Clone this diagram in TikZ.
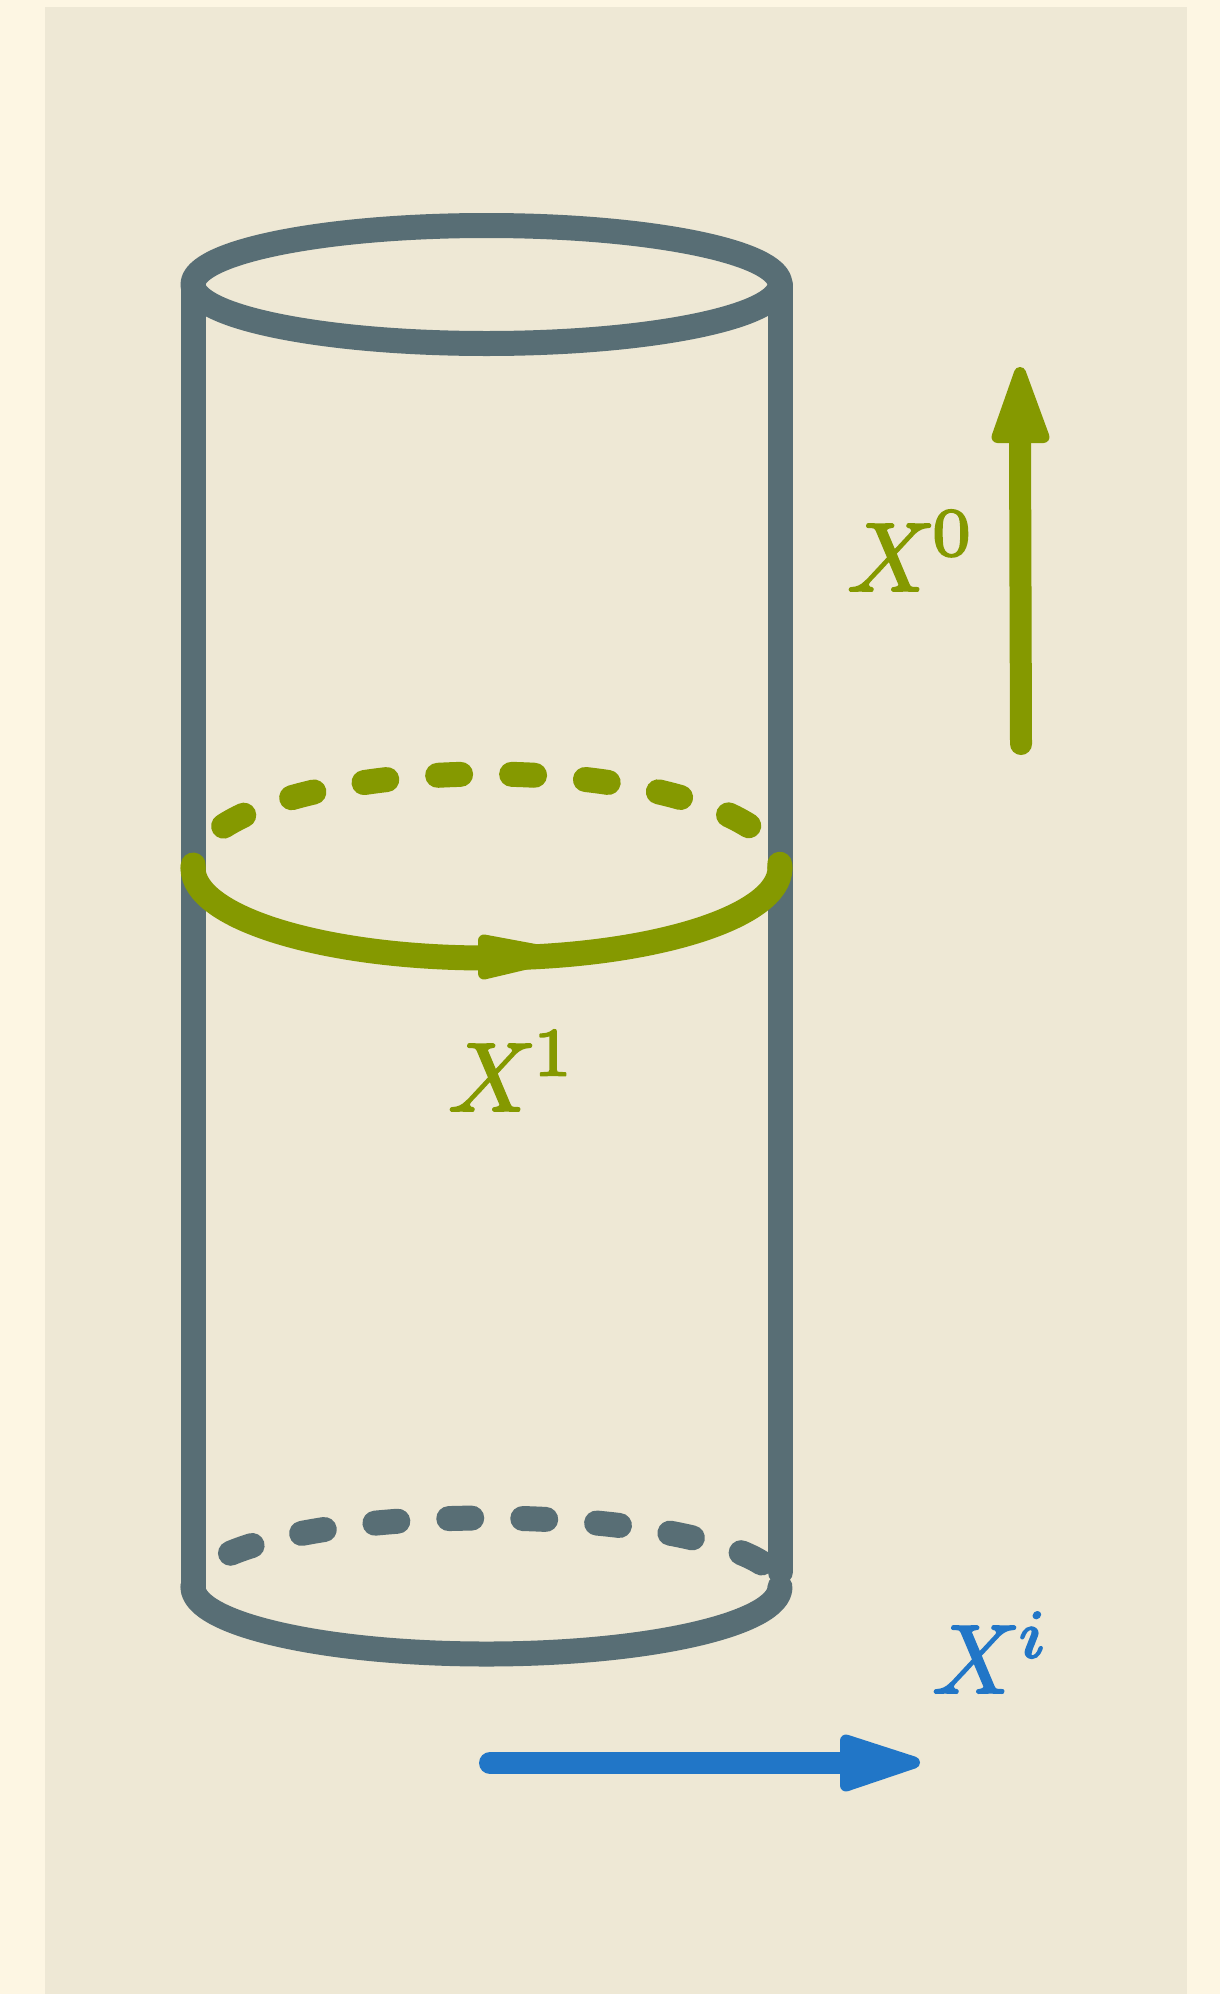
\documentclass[tikz,border=0pt]{standalone}
\definecolor{outerbg}{HTML}{FDF6E3}
\definecolor{innerbg}{HTML}{EEE8D5}
\definecolor{cgray}{HTML}{586E75}
\definecolor{cgreen}{HTML}{859900}
\definecolor{cblue}{HTML}{2176C7}
\newcommand{\heavytext}[1]{\special{pdf:literal direct 2 Tr 0.2 w}#1\special{pdf:literal direct 0 Tr}}
\begin{document}
\begin{tikzpicture}[x=1pt,y=1pt,line cap=round,line join=round,
  cyl/.style={draw=cgray,line width=25pt},
  ring/.style={draw=cgreen,line width=25pt},
  dashedring/.style={dash pattern=on 23pt off 51pt},
  shaft/.style={line width=22pt},
  head/.style={line width=12pt},
  lbl/.style={inner sep=0pt,anchor=base west,scale=9.8,transform shape}]
\fill[outerbg] (0,0) rectangle (1220,-1994);
\fill[innerbg] (45,-7) rectangle (1187,-1994);
\useasboundingbox (0,0) rectangle (1220,-1994);
% cylinder
\coordinate (topc) at (486.5,-284.5);
\coordinate (tl) at (193,-284.5);
\coordinate (tr) at (780,-284.5);
\coordinate (bl) at (193,-1590);
\coordinate (br) at (780,-1572);
\coordinate (bstart) at (193,-1587);
\draw[cyl] (topc) ellipse[x radius=293.5,y radius=59];
\draw[cyl] (tl) -- (bl);
\draw[cyl] (tr) -- (br);
\draw[cyl,dashedring,dash phase=21pt] (bstart) arc[start angle=180,end angle=0,x radius=293.5,y radius=69];
\draw[cyl] (bstart) arc[start angle=180,end angle=360,x radius=293.5,y radius=67];
% green loop
\coordinate (gstart) at (193,-868);
\draw[ring,dashedring,dash phase=20pt] (gstart) arc[start angle=180,end angle=0,x radius=293.5,y radius=94];
\draw[ring] (gstart) arc[start angle=180,end angle=360,x radius=293.5,y radius=90];
\filldraw[cgreen,head] (484,-940.5) -- (562,-955) -- (484,-973.5) -- cycle;
% X0 arrow
\coordinate (a0s) at (1021,-744);
\coordinate (a0b) at (1020,-437);
\draw[cgreen,shaft] (a0s) -- (a0b);
\filldraw[cgreen,head] (997.5,-437) -- (1020,-373) -- (1043.5,-437) -- cycle;
% Xi arrow
\coordinate (ais) at (490,-1763);
\coordinate (aib) at (846,-1763);
\draw[cblue,shaft] (ais) -- (aib);
\filldraw[cblue,head] (846,-1740.5) -- (914,-1762.5) -- (846,-1785.5) -- cycle;
% labels
\node[lbl,text=cgreen] (x0) at (845,-591) {\heavytext{$X^{\kern-0.4pt0}$}};
\node[lbl,text=cgreen] (x1) at (446,-1111) {\heavytext{$X^{\kern-0.4pt1}$}};
\node[lbl,text=cblue] (xi) at (930,-1693) {\heavytext{$X^{\kern-0.3pt i}$}};
\end{tikzpicture}
\end{document}
